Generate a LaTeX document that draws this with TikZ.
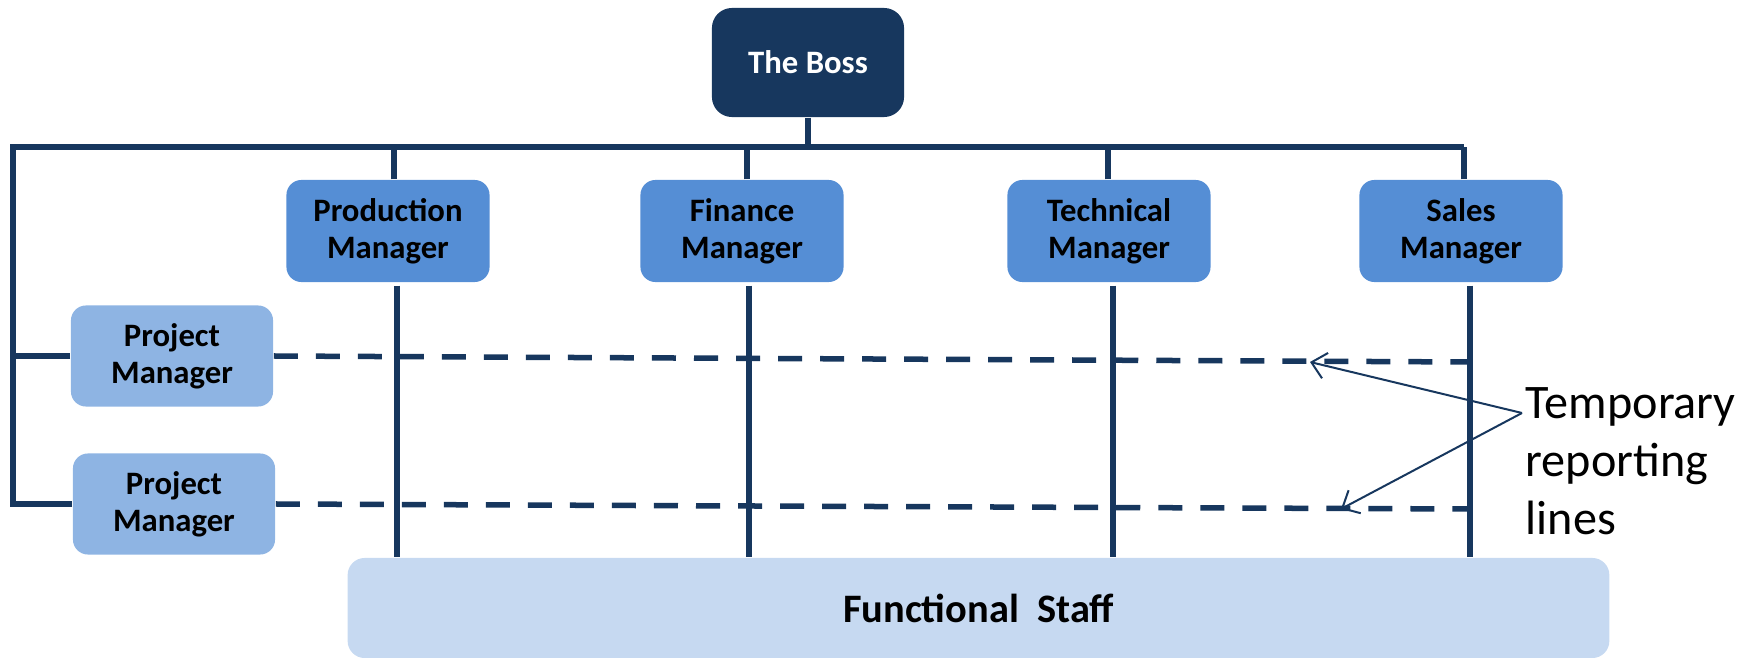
\documentclass[tikz,border=0pt]{standalone}
\usepackage{fontspec}
\setmainfont{Carlito}
\usetikzlibrary{positioning, arrows.meta}
\definecolor{navy}{HTML}{17375E}
\definecolor{mgrblue}{HTML}{558ED5}
\definecolor{pmblue}{HTML}{8EB4E3}
\definecolor{staffblue}{HTML}{C6D9F1}

\begin{document}
\begin{tikzpicture}[x=0.01cm, y=-0.01cm,
    box/.style={rounded corners=0.15cm, align=center, inner sep=0pt,
      font=\fontsize{9.3}{10.6}\selectfont\bfseries},
    mgr/.style={box, fill=mgrblue, minimum width=2.03cm, minimum height=1.02cm},
    pm/.style={box, fill=pmblue, minimum width=2.02cm, minimum height=1.01cm},
    tie/.style={navy, line width=0.055cm},
    tmpline/.style={navy, line width=0.055cm, dash pattern=on 0.24cm off 0.18cm},
    pointer/.style={navy, line width=0.02cm, -{Straight Barb[length=0.14cm, width=0.26cm]}}]
      \useasboundingbox (0,0) rectangle (1750,658);

      \node[box, fill=navy, text=white, minimum width=1.92cm, minimum height=1.09cm, rounded corners=0.2cm] (b) at (808,62.5) {The Boss};

      \node[mgr] (p) at (388,231) {Production\\Manager};
      \node[mgr] (f) at (742,231) {Finance\\Manager};
      \node[mgr] (t) at (1109,231) {Technical\\Manager};
      \node[mgr] (s) at (1461,231) {Sales\\Manager};

      \node[pm] (pm1) at (172,356) {Project\\Manager};
      \node[pm] (pm2) at (174,504) {Project\\Manager};

      \node[box, fill=staffblue, minimum width=12.61cm, minimum height=1.0cm, rounded corners=0.17cm,
        font=\fontsize{11.5}{13}\selectfont\bfseries] (fs) at (978.5,608) {Functional\ \ Staff};

      \node[anchor=north west, align=left, inner sep=0pt, font=\fontsize{13.7}{16.5}\selectfont] (lbl) at (1525,387) {Temporary\\reporting\\lines};

      \coordinate (l) at (13,147);
      \coordinate (r) at (1464,147);
      \coordinate (e1) at (1470,362);
      \coordinate (e2) at (1470,509);
      \coordinate (src) at (1522,413);
      \coordinate (tip1) at (1310,362);
      \coordinate (tip2) at (1341,509);

      % frame
      \draw[tie] (b.south) -- (b.south |- l);
      \draw[tie] (pm2.west) -| (l) -- (r);
      \draw[tie] (pm1.west) -- (pm1.west -| l);

      \draw[tie] ([xshift=0.06cm]p.north) -- ([xshift=0.06cm]p.north |- l);
      \draw[tie] ([xshift=0.05cm]f.north) -- ([xshift=0.05cm]f.north |- l);
      \draw[tie] ([xshift=-0.01cm]t.north) -- ([xshift=-0.01cm]t.north |- l);
      \draw[tie] ([xshift=0.03cm]s.north) -- ([xshift=0.03cm]s.north |- l);

      \draw[tie] ([xshift=0.09cm,yshift=-0.03cm]p.south) -- ([xshift=0.09cm]p.south |- fs.north);
      \draw[tie] ([xshift=0.07cm,yshift=-0.03cm]f.south) -- ([xshift=0.07cm]f.south |- fs.north);
      \draw[tie] ([xshift=0.04cm,yshift=-0.03cm]t.south) -- ([xshift=0.04cm]t.south |- fs.north);
      \draw[tie] ([xshift=0.09cm,yshift=-0.03cm]s.south) -- ([xshift=0.09cm]s.south |- fs.north);

      % temporary lines
      \draw[tmpline] (pm1.east) -- (e1);
      \draw[tmpline] (pm2.east) -- (e2);

      \draw[pointer] (src) -- (tip1);
      \draw[pointer] (src) -- (tip2);
\end{tikzpicture}
\end{document}
